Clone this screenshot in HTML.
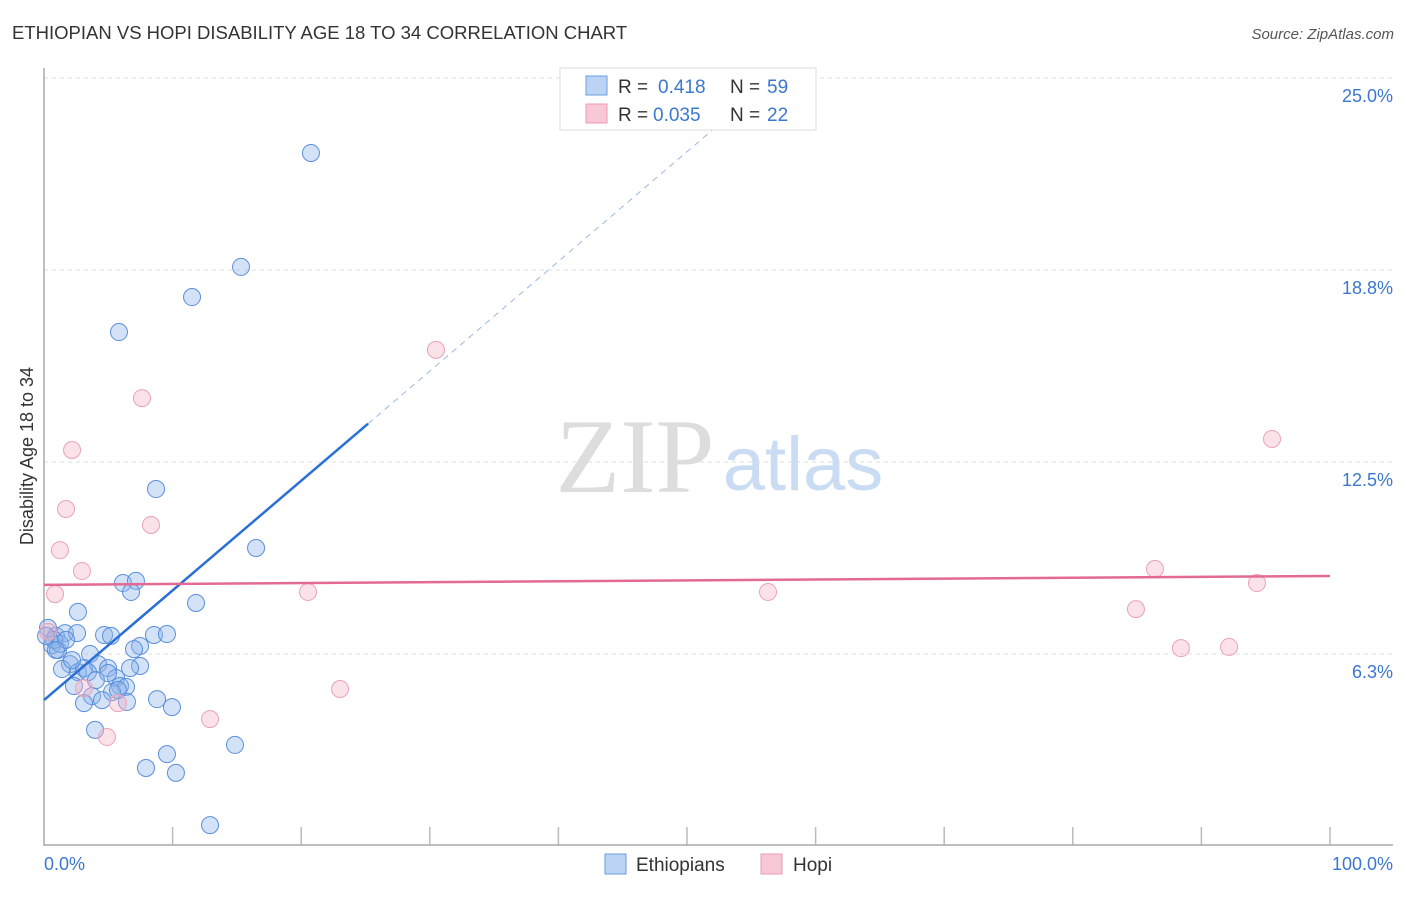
<!DOCTYPE html>
<html><head><meta charset="utf-8"><style>
body{margin:0;background:#fff;font-family:"Liberation Sans",sans-serif;}
svg text{font-family:"Liberation Sans",sans-serif;}
</style></head><body>
<svg id="chart" width="1406" height="892" xmlns="http://www.w3.org/2000/svg">
<text x="12" y="39" font-size="18.5" fill="#333">ETHIOPIAN VS HOPI DISABILITY AGE 18 TO 34 CORRELATION CHART</text>
<text x="1394" y="39" font-size="15" fill="#555" font-style="italic" text-anchor="end">Source: ZipAtlas.com</text>
<text x="635" y="492" font-size="106" fill="#ddd" text-anchor="middle" style="font-family:'Liberation Serif',serif">ZIP</text>
<text x="803" y="490" font-size="76" fill="#c9dcf3" text-anchor="middle">atlas</text>
<g id="grid"></g>
<line x1="44" y1="68" x2="44" y2="846" stroke="#aaa" stroke-width="1.5"/>
<line x1="44" y1="845" x2="1393" y2="845" stroke="#aaa" stroke-width="1.5"/>
<text transform="translate(33,456) rotate(-90)" font-size="18" fill="#333" text-anchor="middle">Disability Age 18 to 34</text>
<text x="44" y="870" font-size="18" fill="#3a78d0">0.0%</text>
<text x="1393" y="870" font-size="18" fill="#3a78d0" text-anchor="end">100.0%</text>
<g id="marks"></g>
<g>
<rect x="560" y="68" width="256" height="62" fill="#fff" stroke="#ddd"/>
<rect x="586" y="76" width="21" height="19" fill="#bcd4f4" stroke="#6a9ee0"/>
<rect x="586" y="104" width="21" height="19" fill="#f9c8d6" stroke="#eb9ab4"/>
<text x="618" y="93" font-size="19" fill="#333">R = </text><text x="658" y="93" font-size="19" fill="#3a78d0">0.418</text>
<text x="730" y="93" font-size="19" fill="#333">N = </text><text x="767" y="93" font-size="19" fill="#3a78d0">59</text>
<text x="618" y="121" font-size="19" fill="#333">R = </text><text x="653" y="121" font-size="19" fill="#3a78d0">0.035</text>
<text x="730" y="121" font-size="19" fill="#333">N = </text><text x="767" y="121" font-size="19" fill="#3a78d0">22</text>
</g>
<g>
<rect x="605" y="854" width="21" height="20" fill="#bcd4f4" stroke="#6a9ee0"/>
<text x="636" y="871" font-size="19" fill="#333">Ethiopians</text>
<rect x="761" y="854" width="21" height="20" fill="#f9c8d6" stroke="#eb9ab4"/>
<text x="793" y="871" font-size="19" fill="#333">Hopi</text>
</g>
</svg>
<script>
const yTicks=[6.25,12.5,18.75,25];
const yTickLabels=["6.3%","12.5%","18.8%","25.0%"];
const xTicks=[10,20,30,40,50,60,70,80,90,100];
const ethX=[20.76,15.32,11.51,5.83,8.71,16.49,6.14,7.15,6.77,11.82,2.64,0.31,0.93,1.63,2.57,4.67,5.21,8.55,9.56,0.62,1.09,7.47,7.00,3.58,2.02,1.40,2.64,3.11,4.20,4.98,3.42,7.47,4.04,2.33,5.60,5.91,6.38,5.29,3.73,4.51,3.11,6.45,8.79,9.95,3.97,14.85,9.56,7.93,10.26,12.91,0.78,1.24,0.16,1.71,4.98,6.69,0.93,2.18,5.75];
const ethY=[22.56,18.85,17.87,16.73,11.62,9.70,8.56,8.63,8.27,7.91,7.62,7.10,6.84,6.93,6.93,6.87,6.84,6.87,6.90,6.54,6.38,6.51,6.41,6.25,5.92,5.76,5.66,5.79,5.92,5.79,5.66,5.86,5.40,5.21,5.47,5.21,5.18,5.01,4.88,4.75,4.65,4.69,4.78,4.52,3.78,3.29,2.99,2.54,2.38,0.68,6.71,6.58,6.84,6.71,5.63,5.79,6.38,6.05,5.08];
const hopiX=[30.48,7.62,2.18,1.71,8.32,1.24,2.95,0.86,20.53,56.30,86.39,84.91,88.41,92.15,95.49,94.32,23.02,12.91,4.90,3.11,5.75,0.31];
const hopiY=[16.15,14.58,12.89,10.97,10.45,9.63,8.95,8.20,8.27,8.27,9.02,7.71,6.44,6.48,13.25,8.56,5.11,4.13,3.55,5.14,4.65,6.97];
const ethTrend=[4.75,0.357];
const hopiTrend=[8.50,0.0029];
const X=v=>44+v*12.86, Y=v=>846-v*30.72;
const NS="http://www.w3.org/2000/svg";
const grid=document.getElementById('grid'), marks=document.getElementById('marks');
function mk(tag,attrs,parent){const e=document.createElementNS(NS,tag);for(const k in attrs)e.setAttribute(k,attrs[k]);parent.appendChild(e);return e;}
yTicks.forEach((t,i)=>{
 const l=mk('line',{x1:44,x2:1393,y1:Y(t),y2:Y(t),stroke:'#ddd','stroke-dasharray':'4,4'},grid);
 
 
 const tx=mk('text',{x:1393,y:Y(t)+24,'font-size':18,fill:'#3a78d0','text-anchor':'end'},grid);
 tx.textContent=yTickLabels[i];
 
 
});
xTicks.forEach(t=>{
 const l=mk('line',{x1:X(t),x2:X(t),y1:827,y2:845,stroke:'#bbb','stroke-width':1.5},grid);
 
 
});
ethX.forEach((x,i)=>{
 const c=mk('circle',{cx:X(x),cy:Y(ethY[i]),r:8.5,fill:'rgba(140,180,235,0.38)',stroke:'#5a8fdc','stroke-width':1},marks);
 
 
});
hopiX.forEach((x,i)=>{
 const c=mk('circle',{cx:X(x),cy:Y(hopiY[i]),r:8.5,fill:'rgba(245,175,195,0.38)',stroke:'#eba2ba','stroke-width':1},marks);
 
 
});
const f=(tr,x)=>tr[0]+tr[1]*x;
let l1=mk('line',{x1:X(0),y1:Y(f(ethTrend,0)),x2:X(25.2),y2:Y(f(ethTrend,25.2)),stroke:'#2a6fd6','stroke-width':2.5},marks);


let l2=mk('line',{x1:X(25.2),y1:Y(f(ethTrend,25.2)),x2:X(53.5),y2:Y(f(ethTrend,53.5)),stroke:'#9bb8e0','stroke-width':1,'stroke-dasharray':'6,5'},marks);


let l3=mk('line',{x1:X(0),y1:Y(f(hopiTrend,0)),x2:X(100),y2:Y(f(hopiTrend,100)),stroke:'#e36a93','stroke-width':2.5},marks);


</script>
</body></html>
